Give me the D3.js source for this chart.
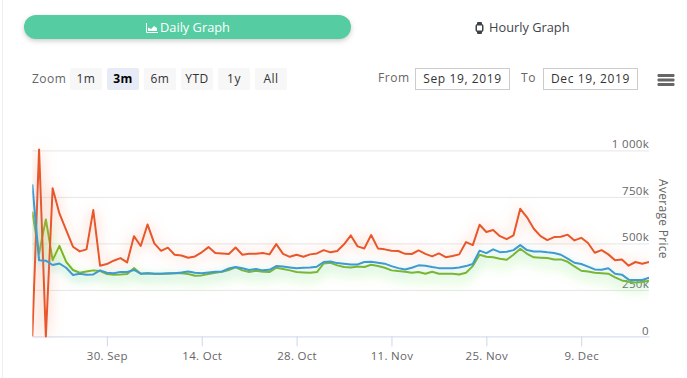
<!DOCTYPE html>
<html>
<head>
<meta charset="utf-8">
<title>Average Price</title>
<style>
  html, body { margin: 0; padding: 0; background: #fff; overflow: hidden; }
  svg { display: block; }
  text { font-family: "Open Sans", sans-serif; }
</style>
</head>
<body>
<svg width="687" height="378"></svg>
<script src="https://d3js.org/d3.v7.min.js"></script>
<script>
// values, in thousands, one per day from Sep 19 2019
var startDay = '2019-09-19';
var redValues = [0,1005,0,796,661,572,482,457,468,679,380,389,407,421,398,539,486,602,500,460,477,439,435,423,430,452,480,448,446,443,
  478,439,444,444,448,441,496,444,428,439,428,441,446,464,452,459,495,543,484,473,545,473,468,460,459,444,443,462,444,430,446,426,
  432,441,507,491,600,561,572,539,523,543,686,640,579,539,518,534,536,547,516,530,502,450,464,441,409,414,380,400,391,400];
var blueValues = [817,410,407,384,392,369,330,337,332,333,355,342,340,346,346,357,337,340,337,337,339,340,344,349,342,340,344,348,349,365,
  373,366,357,362,355,358,378,376,371,366,369,371,375,400,403,394,391,387,387,400,401,396,391,378,367,360,369,382,380,373,367,366,
  366,371,378,389,461,448,468,453,455,464,491,464,457,457,452,448,439,418,396,389,375,360,358,366,337,332,305,303,303,315];
var greenValues = [670,446,629,410,487,401,357,342,349,355,351,335,332,333,335,367,337,340,337,337,337,340,340,335,326,328,335,342,348,357,
  371,355,346,353,348,346,369,362,355,346,344,342,346,392,396,382,373,371,376,373,385,378,369,355,351,348,342,346,337,348,337,337,
  337,333,342,378,439,428,425,418,412,439,471,444,425,423,421,414,414,401,376,353,349,342,340,337,317,301,294,290,292,299];

var yTicks = [0, 250, 500, 750, 1000];
var xTickDays = ['2019-09-30', '2019-10-14', '2019-10-28', '2019-11-11', '2019-11-25', '2019-12-09'];
var zoomLabels = ['1m', '3m', '6m', 'YTD', '1y', 'All'];
var selectedZoom = '3m';
var fromDate = 'Sep 19, 2019';
var toDate = 'Dec 19, 2019';

var svg = d3.select('svg');
var defs = svg.append('defs');

var plotLeft = 32.3, plotRight = 649, plotTop = 150.4, plotBottom = 336.4;

var parseDay = d3.utcParse('%Y-%m-%d');
var day0 = parseDay(startDay);
var days = redValues.map((d, i) => d3.utcDay.offset(day0, i));

var x = d3.scaleUtc().domain(d3.extent(days)).range([plotLeft, plotRight]);
var y = d3.scaleLinear().domain([0, 1000]).range([plotBottom, plotTop]);

// soft glow under each line
function glow(id, color, opacity, dy, blur) {
    var f = defs.append('filter').attr('id', id)
        .attr('filterUnits', 'userSpaceOnUse')
        .attr('x', 0).attr('y', 100).attr('width', 687).attr('height', 278);
    f.append('feDropShadow')
        .attr('dx', 0).attr('dy', dy)
        .attr('stdDeviation', blur)
        .attr('flood-color', color)
        .attr('flood-opacity', opacity);
}
glow('glowRed', '#f39a78', 0.8, 1, 7);
glow('glowBlue', '#6fc6e8', 0.6, 3, 5);
glow('glowGreen', '#8ff06a', 1, 6, 6);

var pillShadow = defs.append('filter').attr('id', 'pillShadow')
    .attr('x', '-5%').attr('y', '-40%').attr('width', '110%').attr('height', '200%');
pillShadow.append('feDropShadow')
    .attr('dx', 0).attr('dy', 2).attr('stdDeviation', 2.5)
    .attr('flood-color', '#9a9a9a').attr('flood-opacity', 0.5);

defs.append('clipPath').attr('id', 'plotClip')
    .append('rect').attr('x', plotLeft).attr('y', 120).attr('width', plotRight - plotLeft).attr('height', plotBottom - 120 + 2);

// page edge
svg.append('rect').attr('x', 2).attr('y', 0).attr('width', 1).attr('height', 378).attr('fill', '#efefef');

// tabs
svg.append('rect')
    .attr('x', 24).attr('y', 15).attr('width', 327).attr('height', 24)
    .attr('rx', 12).attr('fill', '#56cca2')
    .attr('filter', 'url(#pillShadow)');

var dailyIcon = svg.append('g').attr('transform', 'translate(146,23)').attr('fill', 'none').attr('stroke', '#fff');
dailyIcon.append('path').attr('d', 'M0.5,0 V9.5 H12').attr('stroke-width', 1);
dailyIcon.append('path').attr('d', 'M2,8 V4.5 L5,6 L8,3 L11,5 V8 Z').attr('fill', '#fff').attr('stroke', 'none');

svg.append('text').attr('x', 160).attr('y', 32).attr('font-size', 12.8).attr('fill', '#fff').text('Daily Graph');

var hourlyIcon = svg.append('g').attr('transform', 'translate(475,22)');
hourlyIcon.append('rect').attr('x', 0.5).attr('y', 2).attr('width', 8).attr('height', 8).attr('rx', 2).attr('fill', '#3c4248');
hourlyIcon.append('rect').attr('x', 2).attr('y', 0).attr('width', 5).attr('height', 12).attr('rx', 1).attr('fill', '#3c4248');
hourlyIcon.append('rect').attr('x', 2).attr('y', 3.5).attr('width', 5).attr('height', 5).attr('fill', '#fff');

svg.append('text').attr('x', 489).attr('y', 32).attr('font-size', 12.8).attr('fill', '#3f4549').text('Hourly Graph');

// range selector
svg.append('text').attr('x', 32).attr('y', 83).attr('font-size', 12).attr('letter-spacing', 0.5).attr('fill', '#666').text('Zoom');

var zoomX = d3.scalePoint().domain(zoomLabels).range([70, 255]);
var btn = svg.selectAll('.zoom-btn').data(zoomLabels).enter().append('g')
    .attr('class', 'zoom-btn')
    .attr('transform', d => `translate(${zoomX(d)},68)`);
btn.append('rect').attr('width', 32).attr('height', 22).attr('rx', 2)
    .attr('fill', d => d == selectedZoom ? '#e6ebf5' : '#f7f7f7');
btn.append('text').attr('x', 16).attr('y', 15)
    .attr('text-anchor', 'middle').attr('font-size', 12).attr('letter-spacing', 0.5)
    .attr('font-weight', d => d == selectedZoom ? 700 : 400)
    .attr('fill', d => d == selectedZoom ? '#000' : '#333')
    .text(d => d);

svg.append('text').attr('x', 378).attr('y', 82).attr('font-size', 12).attr('letter-spacing', 0.6).attr('fill', '#666').text('From');
svg.append('text').attr('x', 521).attr('y', 82).attr('font-size', 12).attr('letter-spacing', 0.6).attr('fill', '#666').text('To');

[[415.5, fromDate], [543.5, toDate]].forEach(b => {
    svg.append('rect').attr('x', b[0]).attr('y', 68.5).attr('width', 94).attr('height', 21)
        .attr('fill', '#fff').attr('stroke', '#ccc');
    svg.append('text').attr('x', b[0] + 47).attr('y', 82.5)
        .attr('text-anchor', 'middle').attr('font-size', 12).attr('letter-spacing', 0.6)
        .attr('fill', '#333').text(b[1]);
});

// export menu
svg.append('g').selectAll('rect').data([74, 78.5, 83]).enter().append('rect')
    .attr('x', 657.5).attr('y', d => d).attr('width', 17).attr('height', 3).attr('rx', 1).attr('fill', '#666');

// axes
var formatK = d => d == 0 ? '0' : d >= 1000 ? '1 000k' : d + 'k';

var yAxis = d3.axisRight(y).tickValues(yTicks).tickSize(plotRight - plotLeft).tickFormat(formatK);
var yG = svg.append('g').attr('transform', `translate(${plotLeft},0)`).call(yAxis);
yG.select('.domain').remove();
yG.selectAll('.tick line').attr('stroke', d => d == 0 ? 'none' : '#e6e6e6');
yG.selectAll('.tick text')
    .attr('x', plotRight - plotLeft).attr('dy', -2.5)
    .attr('text-anchor', 'end')
    .attr('font-family', '"Open Sans", sans-serif')
    .attr('font-size', 11.5).attr('letter-spacing', 0.3)
    .attr('fill', '#666');
yG.selectAll('.tick').filter(d => d == 0).select('text').attr('dy', -2);

var xAxis = d3.axisBottom(x)
    .tickValues(xTickDays.map(parseDay))
    .tickSize(10).tickSizeOuter(0).tickPadding(5)
    .tickFormat(d3.utcFormat('%-d. %b'));
var xG = svg.append('g').attr('transform', `translate(0,${plotBottom})`).call(xAxis);
xG.select('.domain').attr('stroke', '#ccd6eb');
xG.selectAll('.tick line').attr('stroke', '#ccd6eb');
xG.selectAll('.tick text')
    .attr('font-family', '"Open Sans", sans-serif')
    .attr('font-size', 11.5).attr('letter-spacing', 0.3)
    .attr('fill', '#666');

svg.append('text')
    .attr('transform', 'translate(659,219) rotate(90)')
    .attr('text-anchor', 'middle')
    .attr('font-size', 12).attr('letter-spacing', 0.3).attr('fill', '#666')
    .text('Average Price');

// lines
var line = d3.line().x((d, i) => x(days[i])).y(d => y(d));
var plot = svg.append('g').attr('clip-path', 'url(#plotClip)');

var seriesList = [
    { values: greenValues, color: '#7ab51d', glow: 'glowGreen' },
    { values: redValues, color: '#e8572a', glow: 'glowRed' },
    { values: blueValues, color: '#3f9ad0', glow: 'glowBlue' }
];

plot.selectAll('path').data(seriesList).enter().append('path')
    .attr('d', d => line(d.values))
    .attr('fill', 'none')
    .attr('stroke', d => d.color)
    .attr('stroke-width', 2)
    .attr('stroke-linejoin', 'round')
    .attr('filter', d => `url(#${d.glow})`);
</script>
</body>
</html>
